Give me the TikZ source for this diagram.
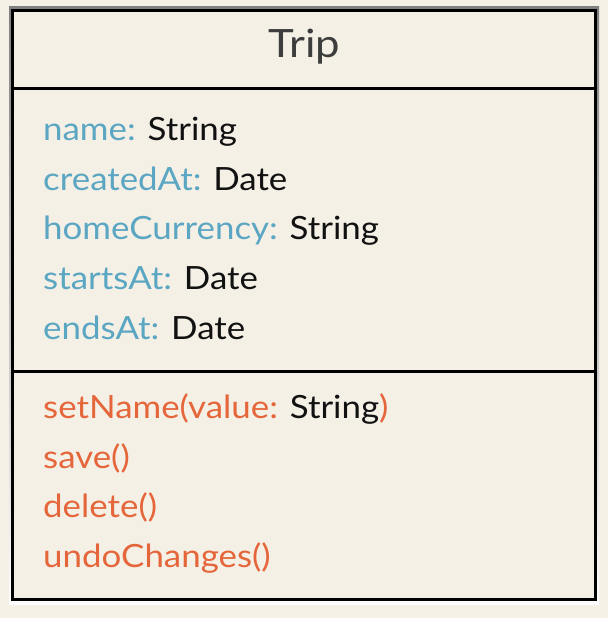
\documentclass[tikz,border=0pt]{standalone}
\usepackage{fontspec}
\setmainfont{Lato}[FakeStretch=1.09]
\definecolor{bg}{HTML}{F4F0E6}
\definecolor{shade}{HTML}{CFCDC8}
\definecolor{attrc}{HTML}{5BA6C2}
\definecolor{methc}{HTML}{E5663A}
\definecolor{typec}{HTML}{111111}
\definecolor{titlec}{HTML}{3D3D3D}
\tikzset{
  member/.style={anchor=base west, inner sep=0pt, font=\fontsize{32}{32}\selectfont},
  attr/.style={member, text=attrc},
  meth/.style={member, text=methc},
  divider/.style={line width=3pt, black},
}
\newcommand{\ty}[1]{\textcolor{typec}{#1}}
\begin{document}
\begin{tikzpicture}[x=1pt,y=-1pt]
\useasboundingbox (0,0) rectangle (608,618);
\fill[bg] (0,0) rectangle (608,618);
\fill[shade] (9,7) rectangle (599,604);
\fill[bg] (11,9) rectangle (597,601);
\draw[line width=3pt, black] (12.5,10.5) rectangle (595.5,599.5);
\node[anchor=base, inner sep=0pt, text=titlec, font=\fontsize{39}{39}\selectfont\addfontfeature{FakeStretch=1.12}] (title) at (304,58) {Trip};
\draw[divider] (11,88) -- (597,88);
\draw[divider] (11,371) -- (597,371);
\node[attr] (a1) at (43,140) {name: \ty{String}};
\node[attr] (a2) at (43,190) {createdAt: \ty{Date}};
\node[attr] (a3) at (43,239) {homeCurrency: \ty{String}};
\node[attr] (a4) at (43,289) {startsAt: \ty{Date}};
\node[attr] (a5) at (43,339) {endsAt: \ty{Date}};
\node[meth] (m1) at (43,418) {setName(value: \ty{String})};
\node[meth] (m2) at (43,468) {save()};
\node[meth] (m3) at (43,517) {delete()};
\node[meth] (m4) at (43,567) {undoChanges()};
\end{tikzpicture}
\end{document}
